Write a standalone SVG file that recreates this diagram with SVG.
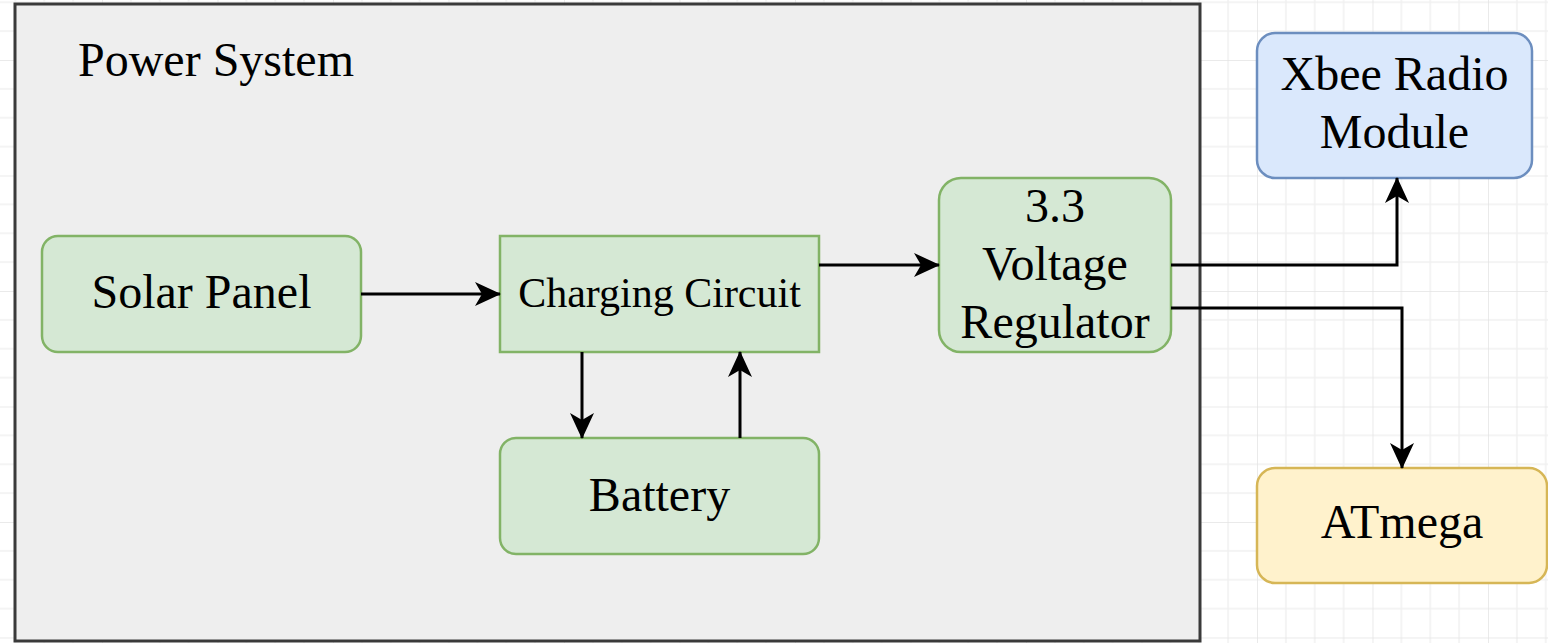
<svg xmlns="http://www.w3.org/2000/svg" width="1548" height="643" viewBox="0 0 1548 643">
<style>
text{font-family:"Liberation Serif","Times New Roman",serif;fill:#000;text-anchor:middle}
.green{fill:#d5e8d4;stroke:#82b366;stroke-width:2.5}
.blue{fill:#dae8fc;stroke:#6c8ebf;stroke-width:2.5}
.yellow{fill:#fff2cc;stroke:#d6b656;stroke-width:2.5}
.edge{fill:none;stroke:#000;stroke-width:3}
.t{font-size:48px}
</style>
<defs>
<pattern id="grid" patternUnits="userSpaceOnUse" x="102" y="60" width="115.5" height="115.5">
<path d="M28.875 0V115.5M57.75 0V115.5M86.625 0V115.5M0 28.875H115.5M0 57.75H115.5M0 86.625H115.5" stroke="#f1f1f1" stroke-width="1.5" fill="none"/>
<path d="M0 0V115.5M0 0H115.5" stroke="#e3e3e3" stroke-width="1.5" fill="none"/>
</pattern>
<marker id="arr" markerUnits="userSpaceOnUse" viewBox="0 0 26 24" refX="25" refY="12" markerWidth="26" markerHeight="24" orient="auto">
<path d="M0,0 L26,12 L0,24 L7,12 Z" fill="#000"/>
</marker>
</defs>
<rect width="1548" height="643" fill="#fff"/>
<rect width="1548" height="643" fill="url(#grid)"/>
<g id="power-system">
<rect x="15" y="4" width="1185" height="637" fill="#eeeeee" stroke="#3a3a3a" stroke-width="3"/>
<text x="216" y="76" class="t">Power System</text>
</g>
<g id="solar-panel">
<rect x="42" y="236" width="319" height="116" rx="16" class="green"/>
<text x="201.5" y="308" class="t">Solar Panel</text>
</g>
<g id="charging-circuit">
<rect x="500" y="236" width="319" height="116" class="green"/>
<text x="659.5" y="307" font-size="42">Charging Circuit</text>
</g>
<g id="battery">
<rect x="500" y="438" width="319" height="116" rx="16" class="green"/>
<text x="659.5" y="511" class="t">Battery</text>
</g>
<g id="voltage-regulator">
<rect x="939" y="178" width="232" height="174" rx="22" class="green"/>
<text x="1055" y="222" class="t">3.3</text>
<text x="1055" y="280" class="t">Voltage</text>
<text x="1055" y="338" class="t">Regulator</text>
</g>
<g id="xbee">
<rect x="1257" y="33" width="275" height="145" rx="18" class="blue"/>
<text x="1394.5" y="90" class="t">Xbee Radio</text>
<text x="1394.5" y="148" class="t">Module</text>
</g>
<g id="atmega">
<rect x="1257" y="468" width="290" height="115" rx="18" class="yellow"/>
<text x="1402" y="538" class="t">ATmega</text>
</g>
<g id="connectors">
<path class="edge" d="M361 294H500" marker-end="url(#arr)"/>
<path class="edge" d="M819 265H939" marker-end="url(#arr)"/>
<path class="edge" d="M582 352V438" marker-end="url(#arr)"/>
<path class="edge" d="M740 438V352" marker-end="url(#arr)"/>
<path class="edge" d="M1171 265H1397V178" marker-end="url(#arr)"/>
<path class="edge" d="M1171 308H1402V468" marker-end="url(#arr)"/>
</g>
</svg>
